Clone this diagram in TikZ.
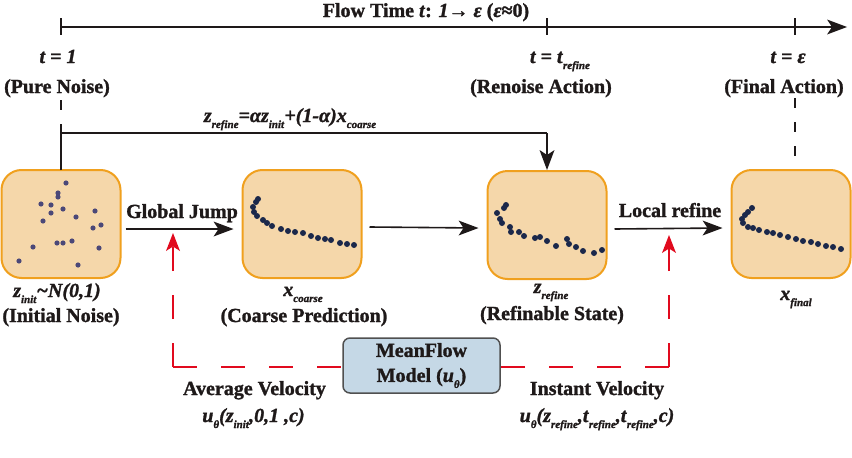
\documentclass[tikz,border=0pt]{standalone}
\usepackage{fontspec}
\setmainfont{Liberation Serif}[BoldFeatures={FakeBold=1.4},BoldItalicFeatures={FakeBold=1.4}]
\usetikzlibrary{calc}
\definecolor{boxfill}{RGB}{245,215,170}
\definecolor{boxedge}{RGB}{240,160,30}
\definecolor{mffill}{RGB}{197,216,230}
\definecolor{mfedge}{RGB}{80,80,80}
\definecolor{dotcolA}{RGB}{75,72,120}
\definecolor{dotcolB}{RGB}{27,40,75}
\definecolor{redl}{RGB}{225,10,30}
\definecolor{ink}{RGB}{30,25,25}
\newcommand{\bi}[1]{\textbf{\textit{#1}}}
\newcommand{\sbs}[1]{\raisebox{-0.3em}{\fontsize{11}{11}\selectfont #1}}
% arrowheads: right, down, up (y grows downwards)
\newcommand{\headR}[2]{\fill[#2] (#1) -- ++(-20,-7.5) -- ++(5,7.5) -- ++(-5,7.5) -- cycle;}
\newcommand{\headD}[2]{\fill[#2] (#1) -- ++(-7.5,-20) -- ++(7.5,5) -- ++(7.5,-5) -- cycle;}
\newcommand{\headU}[2]{\fill[#2] (#1) -- ++(-7,18) -- ++(7,-4.5) -- ++(7,4.5) -- cycle;}
\begin{document}
\begin{tikzpicture}[x=1pt,y=-1pt,
  every node/.style={inner sep=0pt,outer sep=0pt,font=\fontsize{20}{25}\selectfont\bfseries,text=ink},
  statebox/.style={draw=boxedge,line width=2pt,fill=boxfill,rounded corners=20pt,minimum width=119pt,minimum height=108pt},
  mfbox/.style={draw=mfedge,line width=1.5pt,fill=mffill,rounded corners=7pt,minimum width=157pt,minimum height=55pt,align=center},
  lineblk/.style={draw=ink,line width=1.6pt},
  arr/.style={draw=ink,line width=1.6pt,shorten >=14pt},
  redarr/.style={draw=redl,line width=2pt,dash pattern=on 24pt off 24pt,shorten >=12pt},
  reddash/.style={draw=redl,line width=2pt,dash pattern=on 24pt off 24pt},
  vdash/.style={draw=ink,line width=1.5pt,dash pattern=on 10pt off 14pt},
  dotA/.style={fill=dotcolA},
  dotB/.style={fill=dotcolB}]
\useasboundingbox (0,0) rectangle (852,458);

% timeline
\coordinate (tl0) at (61,27);
\coordinate (tlE) at (847,27);
\draw[lineblk,line width=1.5pt,shorten >=14pt] (tl0) -- (tlE);
\headR{tlE}{ink}
\draw[lineblk,line width=1.5pt] (61,18) -- (61,35);
\draw[lineblk,line width=1.5pt] (547,18) -- (547,35);
\draw[lineblk,line width=1.5pt] (795,18) -- (795,35);
\node[anchor=base] (title) at (426,17) {Flow Time \bi{t}: \bi{1}→ \textit{ε} (\textit{ε}≈0)};

% time labels
\node[anchor=base] (t1) at (58,63) {\bi{t = 1}};
\node[anchor=base] (pn) at (57,93) {(Pure Noise)};
\node[anchor=base west] (tr) at (530,63) {\bi{t = t}\sbs{\bi{refine}}};
\node[anchor=base] (ra) at (541,93) {(Renoise Action)};
\node[anchor=base] (te) at (788,63) {\bi{t = ε}};
\node[anchor=base] (fa) at (784,93) {(Final Action)};

% state boxes
\node[statebox] (b1) at (61,224) {};
\node[statebox] (b2) at (302,224) {};
\node[statebox] (b3) at (547,225) {};
\node[statebox] (b4) at (791,224) {};

% dots
\foreach \x/\y in {66/183,58/193,58/197,41/204,51/205,63/209,51/213,95/211,76/217,43/221,93/228,101/225,57/243,63/243,72/241,33/247,99/248,19/261,78/265}
  \fill[dotA] (\x,\y) circle (2.6);
\foreach \x/\y in {258/199,256/202,253/207,254/212,257/216,263/220,267/223,272/226,281/229,288/231,295/232,303/233,311/236,318/238,325/239,331/240,340/243,347/244,354/245}
  \fill[dotB] (\x,\y) circle (3);
\foreach \x/\y in {506/205,504/208,497/213,500/219,502/223,510/227,511/232,519/232,524/236,535/238,540/237,547/241,556/246,567/239,569/244,576/247,583/251,594/253,602/250}
  \fill[dotB] (\x,\y) circle (3);
\foreach \x/\y in {752/208,748/212,745/215,742/219,743/223,748/227,753/228,759/230,767/232,773/233,780/235,788/237,796/239,803/241,811/242,818/244,826/246,833/247,841/249}
  \fill[dotB] (\x,\y) circle (3);

% box labels
\node[anchor=base] (l1a) at (57,297) {\bi{z}\sbs{\bi{init}}\bi{\textasciitilde N(0,1)}};
\node[anchor=base] (l1b) at (61,322) {(Initial Noise)};
\node[anchor=base] (l2a) at (303,296) {\bi{x}\sbs{\bi{coarse}}};
\node[anchor=base] (l2b) at (304,322) {(Coarse Prediction)};
\node[anchor=base] (l3a) at (551,293) {\bi{z}\sbs{\bi{refine}}};
\node[anchor=base] (l3b) at (552,320) {(Refinable State)};
\node[anchor=base] (l4a) at (796,300) {\bi{x}\sbs{\bi{final}}};

% renoise path
\coordinate (jL) at (61,133);
\coordinate (jR) at (547,133);
\coordinate (jT) at ([yshift=1pt]b3.north);
\draw[vdash] (61,100) -- (b1.north);
\draw[lineblk] (b1.north) -- (jL) -- (jR);
\draw[arr] (jR) -- (jT);
\headD{jT}{ink}
\node[anchor=base] (form) at (290,122) {\bi{z}\sbs{\bi{refine}}\bi{=αz}\sbs{\bi{init}}\bi{+(1-α)x}\sbs{\bi{coarse}}};
\coordinate (fA) at (795,98);
\draw[vdash] (fA) -- (fA |- b4.north);

% horizontal arrows
\coordinate (g1) at ([xshift=5pt,yshift=-5pt]b1.east);
\coordinate (g2) at ([xshift=-9pt,yshift=-5pt]b2.west);
\coordinate (m1) at ([xshift=8pt,yshift=-3pt]b2.east);
\coordinate (m2) at ([xshift=-9pt,yshift=-3pt]b3.west);
\coordinate (r1) at ([xshift=8pt,yshift=-4pt]b3.east);
\coordinate (r2) at ([xshift=-9pt,yshift=-4pt]b4.west);
\draw[arr] (g1) -- (g2); \headR{g2}{ink}
\draw[arr] (m1) -- (m2); \headR{m2}{ink}
\draw[arr] (r1) -- (r2); \headR{r2}{ink}
\node[anchor=base] (gj) at (182,218) {Global Jump};
\node[anchor=base] (lr) at (670,217) {Local refine};

% MeanFlow model
\node[mfbox] (mf) at (421.5,365.5) {MeanFlow\\Model (\bi{u}\sbs{\bi{θ}})};
\coordinate (cL) at (173,367);
\coordinate (cR) at (669,367);
\coordinate (tL) at (173,233);
\coordinate (tR) at (669,235);
\draw[reddash] (cL) -- (mf.west |- cL);
\draw[redarr] (cL) -- (tL);
\headU{tL}{redl}
\draw[reddash] (cR) -- (mf.east |- cR);
\draw[redarr] (cR) -- (tR);
\headU{tR}{redl}

\node[anchor=base] (av) at (254.5,395) {Average Velocity};
\node[anchor=base] (avf) at (253.5,422) {\bi{u}\sbs{\bi{θ}}\bi{(z}\sbs{\bi{init}}\bi{,0,1 ,c)}};
\node[anchor=base] (iv) at (597,395) {Instant Velocity};
\node[anchor=base] (ivf) at (597,422) {\bi{u}\sbs{\bi{θ}}\bi{(z}\sbs{\bi{refine}}\bi{,t}\sbs{\bi{refine}}\bi{,t}\sbs{\bi{refine}}\bi{,c)}};
\end{tikzpicture}
\end{document}
